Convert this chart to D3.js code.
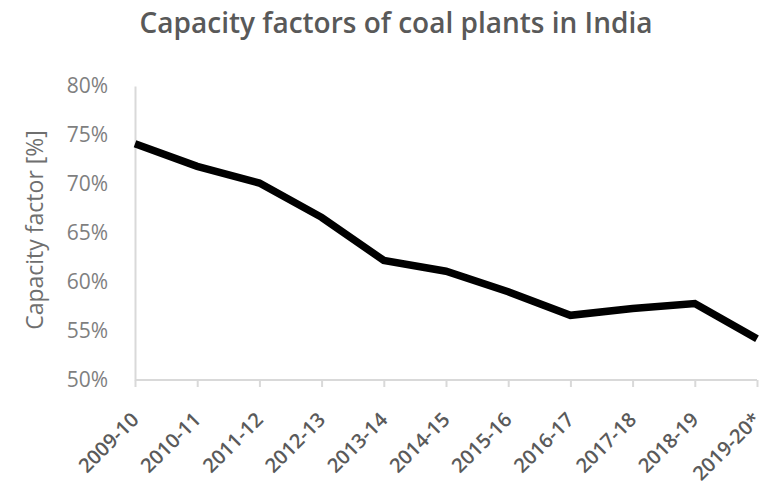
<!DOCTYPE html>
<html>
<head>
<meta charset="utf-8">
<script src="https://cdn.jsdelivr.net/npm/d3@7"></script>
<style>
  html, body { margin: 0; padding: 0; background: #fff; }
  svg { display: block; }
</style>
</head>
<body>
<svg id="chart" width="767" height="492"></svg>
<script>
// Fiscal years and coal-fleet capacity factor (%)
const years = ["2009-10", "2010-11", "2011-12", "2012-13", "2013-14", "2014-15",
               "2015-16", "2016-17", "2017-18", "2018-19", "2019-20*"];
const capacityFactor = [74.1, 71.8, 70.1, 66.6, 62.2, 61.1, 59.0, 56.6, 57.3, 57.8, 54.2];
const yTicks = [50, 55, 60, 65, 70, 75, 80];

const svg = d3.select("#chart");
const m = { left: 135, right: 10, top: 86, bottom: 112 };
const font = "'Open Sans', 'Noto Sans', sans-serif";

const x = d3.scalePoint().domain(years).range([m.left, 757]).padding(0);
const y = d3.scaleLinear().domain([50, 80]).range([380, m.top]);

// Title
svg.append("text")
  .attr("x", 396).attr("y", 33)
  .attr("text-anchor", "middle")
  .attr("font-family", font)
  .attr("font-weight", 600)
  .attr("font-size", 28)
  .attr("fill", "#595959")
  .text("Capacity factors of coal plants in India");

// Y axis
const yAxis = svg.append("g")
  .attr("transform", `translate(${m.left},0)`)
  .call(d3.axisLeft(y).tickValues(yTicks).tickSize(0).tickPadding(27)
        .tickFormat(d => d + "%"));
yAxis.select(".domain").attr("stroke", "#d9d9d9").attr("stroke-width", 2);
yAxis.selectAll("text")
  .attr("font-family", font)
  .attr("font-size", 21)
  .attr("fill", "#7f7f7f");

// X axis
const xAxis = svg.append("g")
  .attr("transform", `translate(0,${y(50)})`)
  .call(d3.axisBottom(x).tickSize(7).tickSizeOuter(0).tickFormat(""));
xAxis.select(".domain")
  .attr("d", `M${m.left},0H757`)
  .attr("stroke", "#d9d9d9").attr("stroke-width", 2);
xAxis.selectAll(".tick line").attr("stroke", "#d9d9d9").attr("stroke-width", 2);

// Rotated category labels
svg.append("g").selectAll("text")
  .data(years)
  .join("text")
  .attr("transform", d => `translate(${x(d) + 5},${y(50) + 41}) rotate(-45)`)
  .attr("text-anchor", "end")
  .attr("font-family", font)
  .attr("font-weight", 600)
  .attr("font-size", 20)
  .attr("fill", "#5a5a5a")
  .text(d => d);

// Y axis title
svg.append("text")
  .attr("transform", `translate(43,230) rotate(-90)`)
  .attr("text-anchor", "middle")
  .attr("font-family", font)
  .attr("font-size", 23)
  .attr("fill", "#6f6f6f")
  .text("Capacity factor [%]");

// Line
const line = d3.line()
  .x((d, i) => x(years[i]))
  .y(d => y(d));
svg.append("path")
  .datum(capacityFactor)
  .attr("d", line)
  .attr("fill", "none")
  .attr("stroke", "#000")
  .attr("stroke-width", 7.5)
  .attr("stroke-linejoin", "miter");
</script>
</body>
</html>
